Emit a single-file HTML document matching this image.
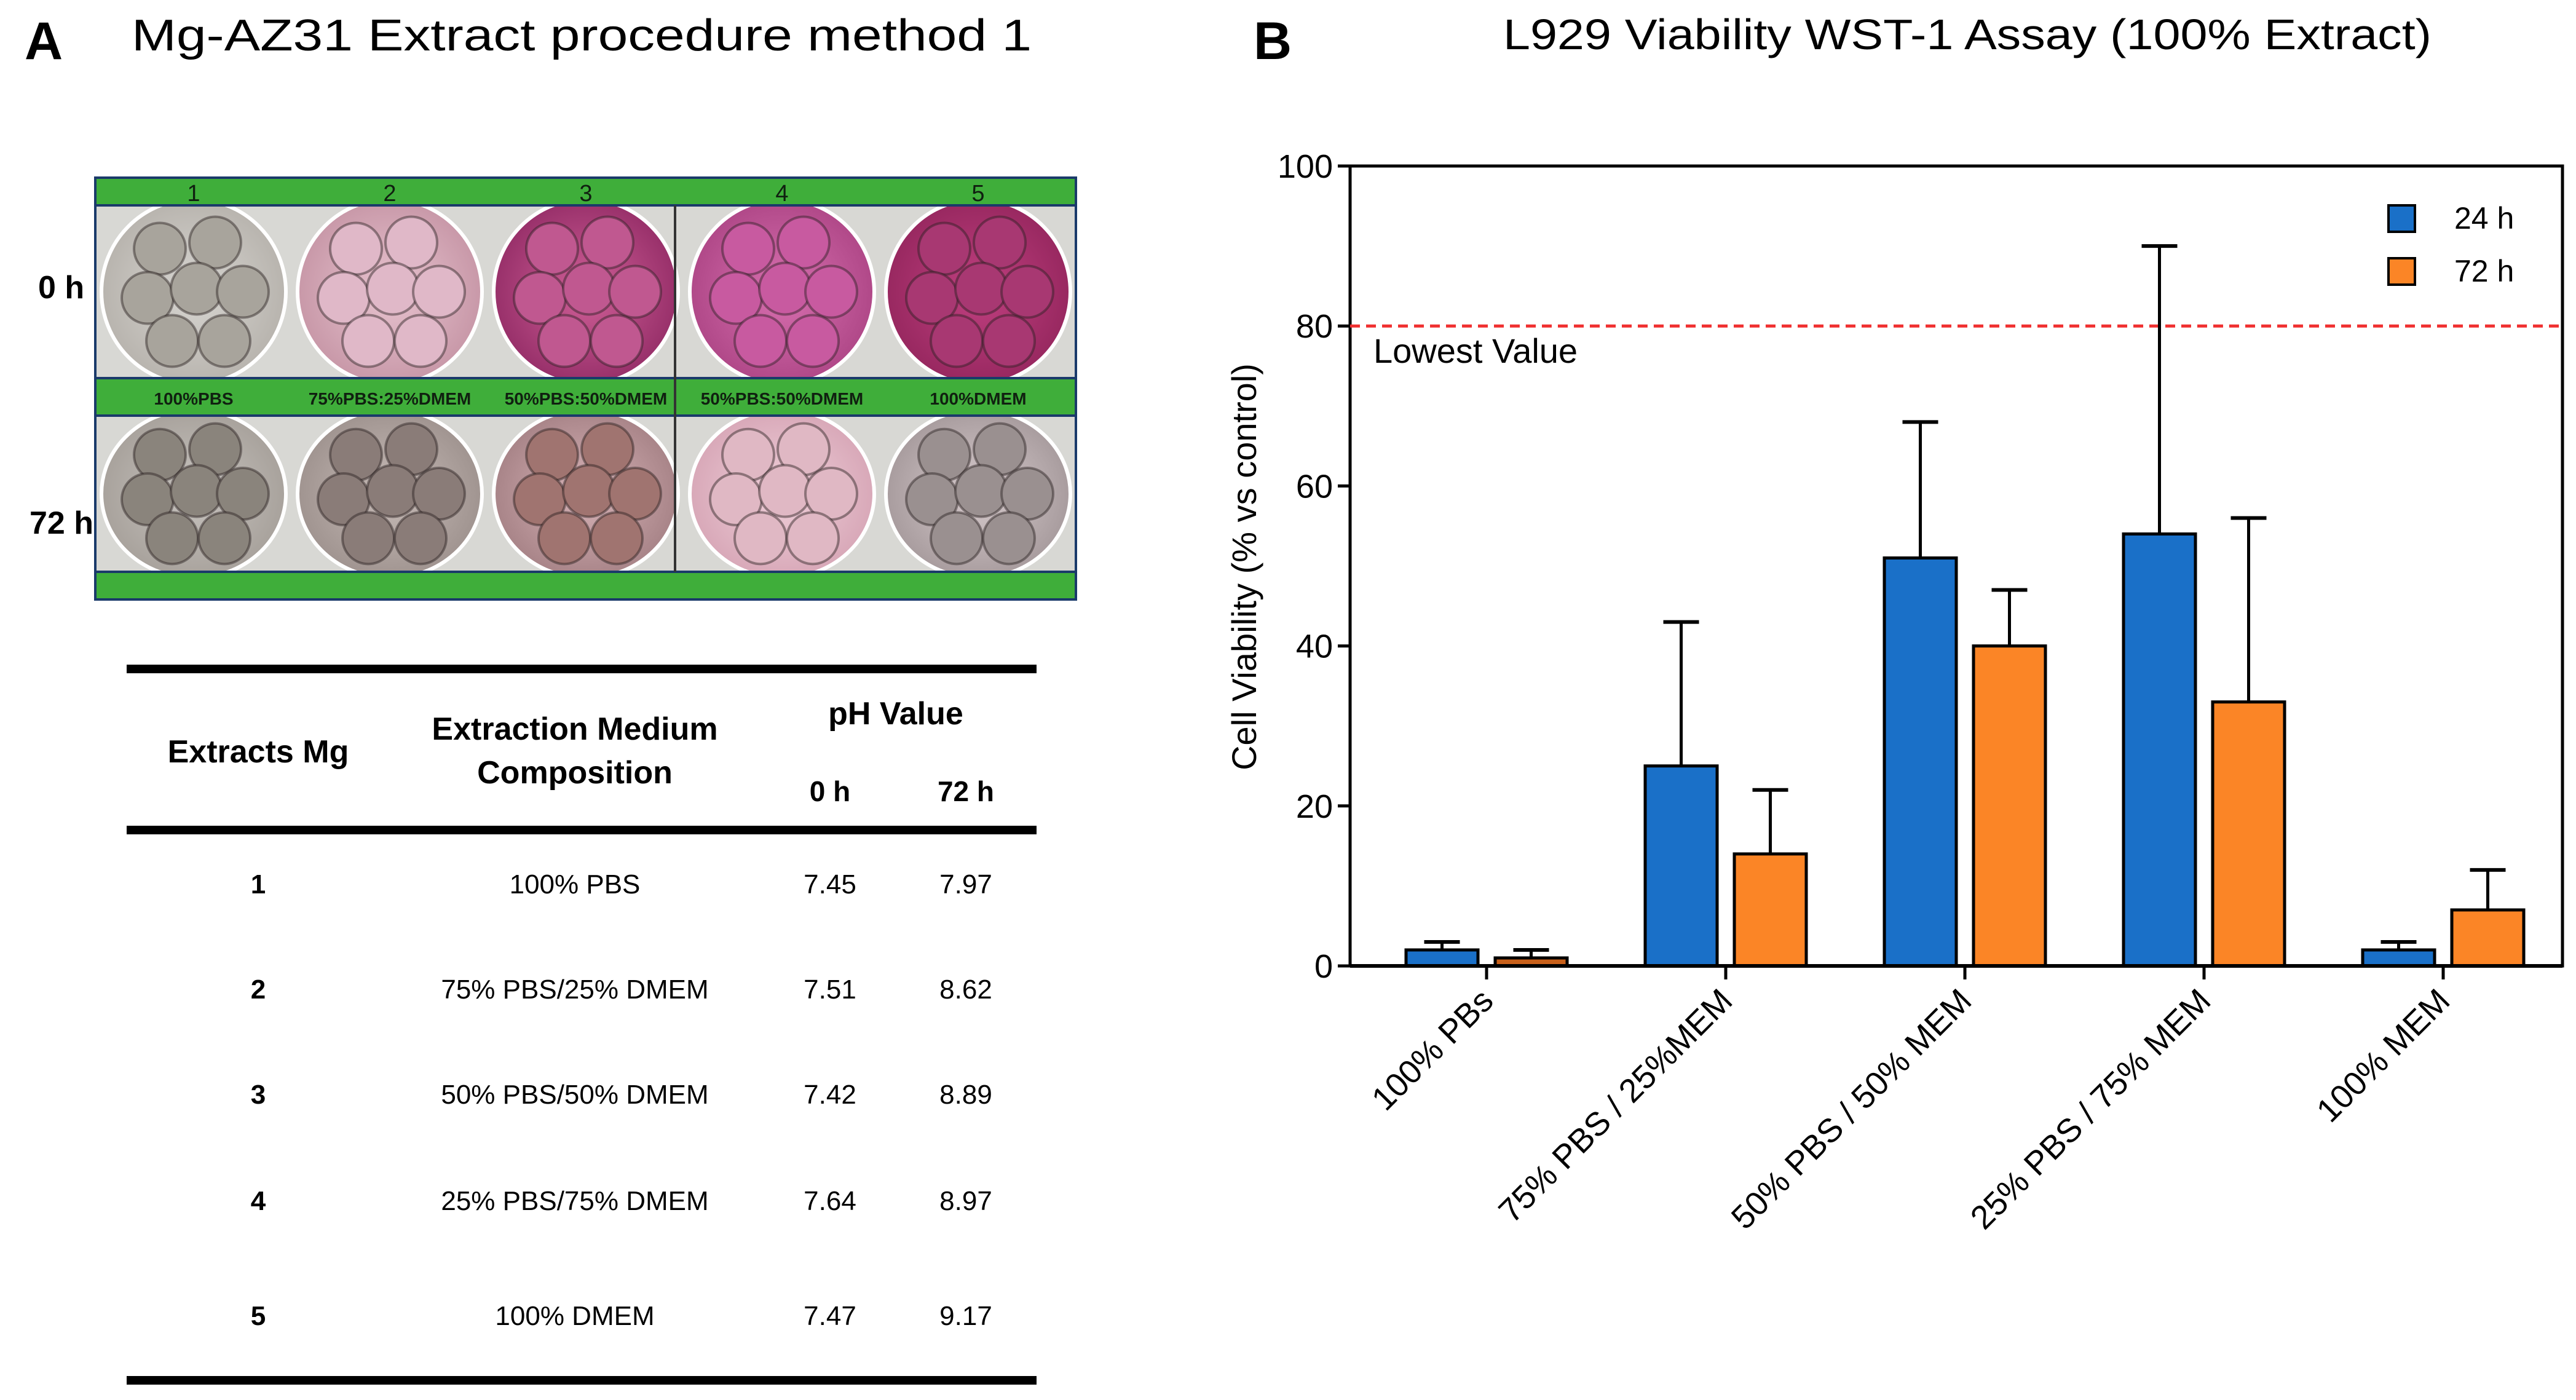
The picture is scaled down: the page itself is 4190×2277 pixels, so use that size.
<!DOCTYPE html>
<html><head><meta charset="utf-8"><style>
html,body{margin:0;padding:0;background:#fff;}
svg{display:block;font-family:"Liberation Sans",sans-serif;}
.nar{font-family:"Liberation Sans Narrow","Liberation Sans",sans-serif;}
</style></head><body>
<svg id="fig" width="4190" height="2277" viewBox="0 0 4190 2277" xmlns="http://www.w3.org/2000/svg">
<defs>
<radialGradient id="g1"><stop offset="0" stop-color="#d8d6d2"/><stop offset="1" stop-color="#b8b4ae"/></radialGradient>
<radialGradient id="g2"><stop offset="0" stop-color="#e8c4d0"/><stop offset="1" stop-color="#c898a8"/></radialGradient>
<radialGradient id="g3"><stop offset="0" stop-color="#d06098"/><stop offset="1" stop-color="#98306a"/></radialGradient>
<radialGradient id="g4"><stop offset="0" stop-color="#d870b0"/><stop offset="1" stop-color="#b04888"/></radialGradient>
<radialGradient id="g5"><stop offset="0" stop-color="#c04080"/><stop offset="1" stop-color="#982860"/></radialGradient>
<radialGradient id="h1"><stop offset="0" stop-color="#c8c4c0"/><stop offset="1" stop-color="#a8a29c"/></radialGradient>
<radialGradient id="h2"><stop offset="0" stop-color="#c8bcb8"/><stop offset="1" stop-color="#a09490"/></radialGradient>
<radialGradient id="h3"><stop offset="0" stop-color="#d8b4b8"/><stop offset="1" stop-color="#a88488"/></radialGradient>
<radialGradient id="h4"><stop offset="0" stop-color="#f0d0da"/><stop offset="1" stop-color="#d8a8b8"/></radialGradient>
<radialGradient id="h5"><stop offset="0" stop-color="#d8ccce"/><stop offset="1" stop-color="#a89c9e"/></radialGradient>
</defs>

<text x="40" y="96" font-size="86" font-weight="bold">A</text>
<text x="214" y="82" font-size="72" textLength="1464" lengthAdjust="spacingAndGlyphs">Mg-AZ31  Extract procedure method 1</text>

<g id="photo">
  <rect x="155" y="289" width="1595" height="686" fill="#d8d8d4" stroke="#1a3a6a" stroke-width="4"/>
</g>
<text x="62" y="485" font-size="52" font-weight="bold">0 h</text>
<text x="48" y="868" font-size="52" font-weight="bold">72 h</text>

<g class="nar">
  <rect x="206" y="1081" width="1480" height="14" fill="#000"/>
  <rect x="206" y="1343" width="1480" height="14" fill="#000"/>
  <rect x="206" y="2238" width="1480" height="14" fill="#000"/>
  <g font-weight="bold" font-size="52" text-anchor="middle">
    <text x="420" y="1240">Extracts Mg</text>
    <text x="935" y="1203">Extraction Medium</text>
    <text x="935" y="1274">Composition</text>
    <text x="1457" y="1178">pH Value</text>
    <text x="1350" y="1303" font-size="46">0 h</text>
    <text x="1571" y="1303" font-size="46">72 h</text>
  </g>
  <g id="rows" font-size="44" text-anchor="middle"></g>
</g>

<text x="2039" y="96" font-size="86" font-weight="bold">B</text>
<text x="3200" y="80" font-size="70" text-anchor="middle" textLength="1510" lengthAdjust="spacingAndGlyphs">L929 Viability WST-1 Assay (100% Extract)</text>
<g id="chart"></g>
</svg>
<script>
const NS="http://www.w3.org/2000/svg";
const wellFills0=["g1","g2","g3","g4","g5"];
const wellFills1=["h1","h2","h3","h4","h5"];
const coin0=["#a8a49c","#e0b8c8","#c05890","#c85aa0","#a83872"];
const coin1=["#8a847c","#8a7c78","#a07470","#e0b8c4","#9a9090"];
const wellNums=["1","2","3","4","5"];
const wellLabels=["100%PBS","75%PBS:25%DMEM","50%PBS:50%DMEM","50%PBS:50%DMEM","100%DMEM"];
const photo=document.getElementById('photo');
function mk(tag,attrs,parent){const e=document.createElementNS(NS,tag);for(const k in attrs)e.setAttribute(k,attrs[k]);parent.appendChild(e);return e;}
const coinOff=[[-55,-70],[35,-80],[-75,10],[5,-5],[80,0],[-35,80],[50,80]];
for(let i=0;i<5;i++){
  const cx=155+319*i+160;
  [[334,281,wellFills0[i],coin0[i]],[676,254,wellFills1[i],coin1[i]]].forEach(([y,h,f,cc],r)=>{
    const cy=y+h/2;
    const c=mk('ellipse',{cx:cx,cy:cy,rx:150,ry:h/2+10,fill:'url(#'+f+')',stroke:'#ffffff','stroke-width':6},photo);
    
    
    coinOff.forEach(([dx,dy])=>{
      const k=mk('circle',{cx:cx+dx,cy:cy+dy*(h/281),r:42,fill:cc,stroke:'rgba(40,30,30,0.45)','stroke-width':4},photo);
      
      
    });
  });
}
[[289,45],[615,61],[930,45]].forEach(([y,h])=>{const b=mk('rect',{x:155,y:y,width:1595,height:h,fill:'#3fae3a',stroke:'#1a3a6a','stroke-width':4},photo);

});
for(let i=0;i<5;i++){
  const cx=155+319*i+160;
  const t=mk('text',{x:cx,y:327,'font-size':38,'text-anchor':'middle',fill:'#102010'},photo);
  t.textContent=wellNums[i];
  
  
  const l=mk('text',{x:cx,y:658,'font-size':28,'font-weight':'bold','text-anchor':'middle',fill:'#102010'},photo);
  l.textContent=wellLabels[i];
  
  
}
const dv=mk('line',{x1:1098,y1:334,x2:1098,y2:930,stroke:'#333','stroke-width':4},photo);



const tblIds=["1","2","3","4","5"];
const tblMedium=["100% PBS","75% PBS/25% DMEM","50% PBS/50% DMEM","25% PBS/75% DMEM","100% DMEM"];
const tblPh0=["7.45","7.51","7.42","7.64","7.47"];
const tblPh72=["7.97","8.62","8.89","8.97","9.17"];
const rowsG=document.getElementById('rows');
const rowY=[1453,1624,1795,1968,2155];
for(let i=0;i<5;i++){
  const cells=[[420,tblIds[i],true],[935,tblMedium[i]],[1350,tblPh0[i]],[1571,tblPh72[i]]];
  cells.forEach(([x,s,b])=>{const t=mk('text',{x:x,y:rowY[i]},rowsG);if(b)t.setAttribute('font-weight','bold');t.textContent=s;
  
  });
}

const categories=["100% PBs","75% PBS / 25%MEM","50% PBS / 50% MEM","25% PBS / 75% MEM","100% MEM"];
const mean24=[2,25,51,54,2];
const err24=[1,18,17,36,1];
const mean72=[1,14,40,33,7];
const err72=[1,8,7,23,5];
const yTicks=[0,20,40,60,80,100];
const threshold=80;
const chart=document.getElementById('chart');
const X0=2196,X1=4168,Y0=1571,Y1=270;
const yS=v=>Y0-(v/100)*(Y0-Y1);
const xC=i=>2418+i*389;
const bw=117, gap=14;
const fr=mk('rect',{x:X0,y:Y1,width:X1-X0,height:Y0-Y1,fill:'none',stroke:'#000','stroke-width':5},chart);


yTicks.forEach(v=>{
  const ln=mk('line',{x1:X0-20,x2:X0,y1:yS(v),y2:yS(v),stroke:'#000','stroke-width':5},chart);
  
  
  const t=mk('text',{x:X0-28,y:yS(v)+19,'font-size':54,'text-anchor':'end'},chart);
  t.textContent=v;
  
  
});
const yl=mk('text',{x:0,y:0,'font-size':56,'text-anchor':'middle',transform:'translate(2043,922) rotate(-90)'},chart);
yl.textContent='Cell Viability (% vs control)';


const th=mk('line',{x1:X0,x2:X1,y1:yS(threshold),y2:yS(threshold),stroke:'#f03030','stroke-width':5,'stroke-dasharray':'16 10'},chart);


const tt=mk('text',{x:2234,y:yS(threshold)+60,'font-size':56},chart);
tt.textContent='Lowest Value';


function bar(x,m,e,color,name){
  const top=yS(m+e), cx=x+bw/2;
  const el=mk('line',{x1:cx,x2:cx,y1:yS(m),y2:top,stroke:'#000','stroke-width':5},chart);
  
  
  const cp=mk('line',{x1:cx-29,x2:cx+29,y1:top,y2:top,stroke:'#000','stroke-width':6},chart);
  
  
  const r=mk('rect',{x:x,y:yS(m),width:bw,height:Y0-yS(m),fill:color,stroke:'#000','stroke-width':5},chart);
  
  
}
categories.forEach((c,i)=>{
  const cx=xC(i);
  bar(cx-gap-bw,mean24[i],err24[i],'#1a70c8','24h-'+i);
  bar(cx+gap,mean72[i],err72[i],i===0?'#c8601a':'#fb8526','72h-'+i);
  const tk=mk('line',{x1:cx,x2:cx,y1:Y0,y2:Y0+22,stroke:'#000','stroke-width':5},chart);
  
  
  const t=mk('text',{x:0,y:0,'font-size':54,'text-anchor':'end',transform:`translate(${cx+14},${Y0+60}) rotate(-45)`},chart);
  t.textContent=c;
  
  
});
const ax=mk('line',{x1:X0,x2:X1,y1:Y0,y2:Y0,stroke:'#000','stroke-width':6},chart);


[['24 h','#1a70c8',334],['72 h','#fb8526',420]].forEach(([s,c,y],i)=>{
  const r=mk('rect',{x:3885,y:y,width:43,height:43,fill:c,stroke:'#000','stroke-width':4},chart);
  
  
  const t=mk('text',{x:3992,y:y+38,'font-size':50},chart);
  t.textContent=s;
  
  
});
</script>
</body></html>
